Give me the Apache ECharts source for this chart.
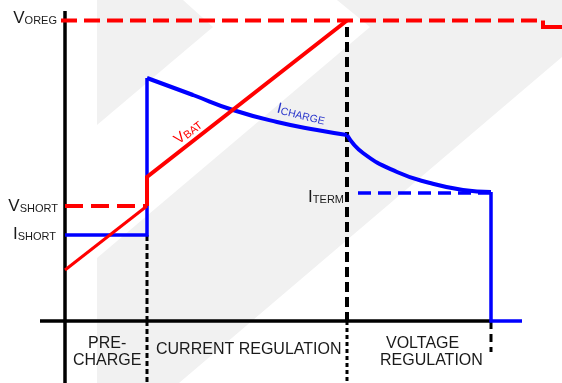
<!DOCTYPE html>
<html><head><meta charset="utf-8">
<script src="https://cdn.jsdelivr.net/npm/echarts@6/dist/echarts.min.js"></script>
<style>html,body{margin:0;padding:0;background:#fff}#c{width:562px;height:383px}</style>
</head><body><div id="c"></div>
<script>
// Time units (horizontal) and level units (vertical)
const axisTimeRange = [-65, 497];
const axisLevelRange = [-62, 321];
const phaseTimes = [0, 82, 282, 426];          // start, end of pre-charge, end of CC, termination
const endTime = 457;
const voregTimes = [-4, 478, 497];
const levelVOREG = 300.5;
const levelVOREGAfter = 294;
const levelVSHORT = 115;
const levelISHORT = 86;
const levelITERM = 128;
const itermStartTime = 293;
const vbatTimes = [0, 82, 82, 282];
const vbatLevels = [51, 115, 144, 300.5];
const iccTimes = [82, 128, 168, 212, 252, 282];
const iccLevels = [243, 226, 211, 199, 191, 186];
const icvTimes = [282, 298, 332, 365, 398, 426];
const icvLevels = [186, 168, 149, 138, 131, 129];
const axisXStart = -25;
const axisYTop = 310;
const cvMarkerBottom = -31;

const RED = '#ff0000', BLUE = '#0000ff', BLACK = '#000000';
const zip = (a, b) => a.map((v, i) => [v, b[i]]);

function seg(data, color, width, type, smooth, z) {
  return {
    type: 'line', data: data, symbol: 'none', silent: true, animation: false,
    smooth: smooth || false, z: z || 2,
    lineStyle: { color: color, width: width, type: type || 'solid', cap: 'butt', join: 'miter' }
  };
}

const lastCv = icvTimes.length - 1;
const series = [
  // axes
  seg([[0, axisYTop], [0, axisLevelRange[0]]], BLACK, 3.5),
  seg([[axisXStart, 0], [phaseTimes[3], 0]], BLACK, 3.5),
  // phase boundary markers
  seg([[phaseTimes[1], levelISHORT], [phaseTimes[1], 0]], BLACK, 3, [6, 3]),
  seg([[phaseTimes[1], 0], [phaseTimes[1], axisLevelRange[0]]], BLACK, 3, [5, 3]),
  seg([[phaseTimes[2], levelVOREGAfter], [phaseTimes[2], 0]], BLACK, 4, [10, 5]),
  seg([[phaseTimes[2], 0], [phaseTimes[2], axisLevelRange[0]]], BLACK, 3, [4, 3]),
  seg([[phaseTimes[3], 0], [phaseTimes[3], cvMarkerBottom]], BLACK, 3, [8, 5]),
  // current
  seg([[phaseTimes[0], levelISHORT], [phaseTimes[1], levelISHORT], [phaseTimes[1], iccLevels[0]]], BLUE, 3.5, 'solid', false, 3),
  seg(zip(iccTimes, iccLevels), BLUE, 4, 'solid', 0.5, 3),
  seg(zip(icvTimes, icvLevels), BLUE, 4, 'solid', 0.5, 3),
  seg([[icvTimes[lastCv], icvLevels[lastCv]], [phaseTimes[3], 0], [endTime, 0]], BLUE, 3.5, 'solid', false, 3),
  seg([[itermStartTime, levelITERM], [phaseTimes[3], levelITERM]], BLUE, 3.5, [13, 7], false, 3),
  // voltage
  seg([[phaseTimes[0], levelVSHORT], [phaseTimes[1], levelVSHORT]], RED, 4, [18, 8], false, 4),
  seg([[voregTimes[0], levelVOREG], [voregTimes[1], levelVOREG]], RED, 4, [16, 7], false, 4),
  seg([[voregTimes[1], levelVOREG], [voregTimes[1], levelVOREGAfter], [voregTimes[2], levelVOREGAfter]], RED, 4, 'solid', false, 4),
  seg(zip(vbatTimes, vbatLevels).slice(0, 2), RED, 3, 'solid', false, 5),
  seg(zip(vbatTimes, vbatLevels).slice(1), RED, 4, 'solid', false, 5)
];

const FONT = '"Liberation Sans", Arial, sans-serif';
function rich(big, small, bigSize, smallSize, color) {
  return {
    text: '{a|' + big + '}{b|' + small + '}',
    rich: {
      a: { fontSize: bigSize, fontFamily: FONT, fill: color, verticalAlign: 'bottom' },
      b: { fontSize: smallSize, fontFamily: FONT, fill: color, verticalAlign: 'bottom' }
    }
  };
}
function label(x, y, big, small, align, color, rot, bs, ss) {
  const st = rich(big, small, bs || 17, ss || 11, color);
  st.x = 0; st.y = 0; st.align = align; st.verticalAlign = 'middle';
  return { type: 'text', x: x, y: y, rotation: rot || 0, z: 100, style: st };
}
function plain(x, y, text) {
  return { type: 'text', x: x, y: y, z: 100,
    style: { text: text, x: 0, y: 0, align: 'left', verticalAlign: 'middle', fontSize: 16, fontFamily: FONT, fill: '#1a1a1a' } };
}

const graphic = [
  { type: 'polygon', z: -10, silent: true, shape: { points: [[97, 0], [183, 0], [213, 27], [97, 125]] }, style: { fill: '#f1f1f1' } },
  { type: 'polygon', z: -10, silent: true, shape: { points: [[337, 0], [562, 0], [562, 57], [179, 383], [97, 383], [97, 258], [370, 27]] }, style: { fill: '#f1f1f1' } },
  label(57, 18, 'V', 'OREG', 'right', '#1a1a1a'),
  label(58, 206, 'V', 'SHORT', 'right', '#1a1a1a'),
  label(56, 234, 'I', 'SHORT', 'right', '#1a1a1a'),
  label(344, 197, 'I', 'TERM', 'right', '#1a1a1a'),
  label(301, 114, 'I', 'CHARGE', 'center', '#2a36cc', -0.24, 15, 10.5),
  label(188, 132, 'V', 'BAT', 'center', RED, 0.66, 15, 11),
  plain(88, 344, 'PRE-'),
  plain(73, 361, 'CHARGE'),
  plain(156, 350, 'CURRENT REGULATION'),
  plain(386, 344, 'VOLTAGE'),
  plain(380, 361, 'REGULATION')
];

const chart = echarts.init(document.getElementById('c'), null, { renderer: 'canvas' });
chart.setOption({
  animation: false,
  grid: { left: 0, right: 0, top: 0, bottom: 0 },
  xAxis: { type: 'value', min: axisTimeRange[0], max: axisTimeRange[1], show: false },
  yAxis: { type: 'value', min: axisLevelRange[0], max: axisLevelRange[1], show: false },
  series: series,
  graphic: graphic
});
</script></body></html>
